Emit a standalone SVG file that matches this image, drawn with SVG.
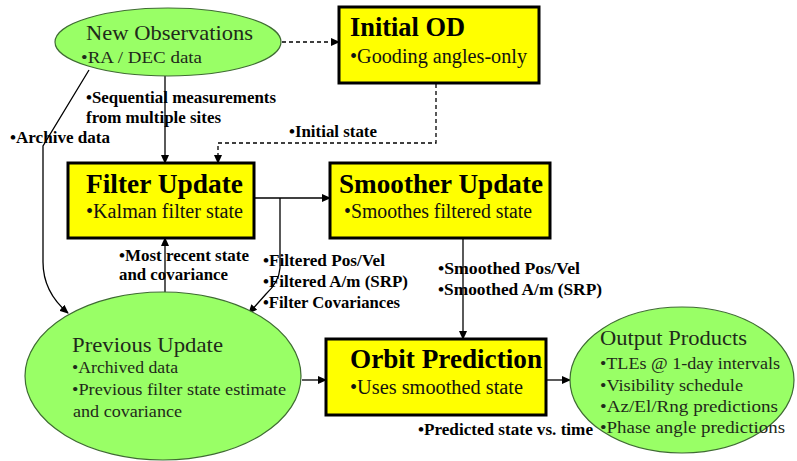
<svg xmlns="http://www.w3.org/2000/svg" width="797" height="461" viewBox="0 0 797 461">
<defs>
<marker id="ah" markerWidth="9" markerHeight="8" refX="8" refY="4" orient="auto" markerUnits="userSpaceOnUse">
<path d="M0,0 L9,4 L0,8 Z" fill="#000"/>
</marker>
<style>
.box{fill:#ffff00;stroke:#000;stroke-width:3}
.ell{fill:#99ff66;stroke:#3f6b33;stroke-width:1.2}
.ttl{font-family:"Liberation Serif","Times New Roman",serif;font-weight:bold;font-size:27px;fill:#000}
.sub{font-family:"Liberation Serif","Times New Roman",serif;font-size:20px;fill:#111}
.etl{font-family:"Liberation Serif","Times New Roman",serif;font-size:21px;fill:#1f2a1a}
.eit{font-family:"Liberation Serif","Times New Roman",serif;font-size:17px;fill:#1f2a1a}
.lbl{font-family:"Liberation Serif","Times New Roman",serif;font-weight:bold;font-size:17px;fill:#000}
.ln{fill:none;stroke:#000;stroke-width:1.3}
.dash{stroke-dasharray:4,3}
</style>
</defs>
<rect width="797" height="461" fill="#fff"/>
<g id="connectors">
<path class="ln dash" d="M282,42 H339" marker-end="url(#ah)"/>
<path class="ln dash" d="M436,84 V143 H218 V163" marker-end="url(#ah)"/>
<path class="ln" d="M165,76 V163" marker-end="url(#ah)"/>
<path class="ln" d="M89,70 L43,146 V262 Q43,292 68,313" marker-end="url(#ah)"/>
<path class="ln" d="M254,198 H330" marker-end="url(#ah)"/>
<path class="ln" d="M280,198 V268 Q279,282 266,294 L249,313" marker-end="url(#ah)"/>
<path class="ln" d="M165,292 V238" marker-end="url(#ah)"/>
<path class="ln" d="M463,238 V339" marker-end="url(#ah)"/>
<path class="ln" d="M302,380 H326" marker-end="url(#ah)"/>
<path class="ln" d="M546,380 H570" marker-end="url(#ah)"/>
</g>
<g id="labels">
<text class="lbl" x="86" y="103" textLength="190" lengthAdjust="spacingAndGlyphs">•Sequential measurements</text>
<text class="lbl" x="86" y="123" textLength="135" lengthAdjust="spacingAndGlyphs">from multiple sites</text>
<text class="lbl" x="10" y="143" textLength="100" lengthAdjust="spacingAndGlyphs">•Archive data</text>
<text class="lbl" x="289" y="137" textLength="88" lengthAdjust="spacingAndGlyphs">•Initial state</text>
<text class="lbl" x="119" y="261" textLength="130" lengthAdjust="spacingAndGlyphs">•Most recent state</text>
<text class="lbl" x="119" y="280" textLength="109" lengthAdjust="spacingAndGlyphs">and covariance</text>
<text class="lbl" x="263" y="266" textLength="122" lengthAdjust="spacingAndGlyphs">•Filtered Pos/Vel</text>
<text class="lbl" x="263" y="287" textLength="145" lengthAdjust="spacingAndGlyphs">•Filtered A/m (SRP)</text>
<text class="lbl" x="263" y="308" textLength="137" lengthAdjust="spacingAndGlyphs">•Filter Covariances</text>
<text class="lbl" x="438" y="274" textLength="142" lengthAdjust="spacingAndGlyphs">•Smoothed Pos/Vel</text>
<text class="lbl" x="438" y="295" textLength="164" lengthAdjust="spacingAndGlyphs">•Smoothed A/m (SRP)</text>
<text class="lbl" x="418" y="435" textLength="175" lengthAdjust="spacingAndGlyphs">•Predicted state vs. time</text>
</g>
<g id="new-observations">
<ellipse class="ell" cx="168" cy="42" rx="113" ry="34"/>
<text class="etl" x="86" y="40" textLength="167" lengthAdjust="spacingAndGlyphs">New Observations</text>
<text class="eit" x="81" y="63" textLength="121" lengthAdjust="spacingAndGlyphs">•RA / DEC data</text>
</g>
<g id="initial-od">
<rect class="box" x="339" y="7" width="200" height="76"/>
<text class="ttl" x="350" y="36" textLength="115" lengthAdjust="spacingAndGlyphs">Initial OD</text>
<text class="sub" x="350" y="63" textLength="177" lengthAdjust="spacingAndGlyphs">•Gooding angles-only</text>
</g>
<g id="filter-update">
<rect class="box" x="68" y="163" width="186" height="75"/>
<text class="ttl" x="86" y="193" textLength="157" lengthAdjust="spacingAndGlyphs">Filter Update</text>
<text class="sub" x="86" y="218" textLength="157" lengthAdjust="spacingAndGlyphs">•Kalman filter state</text>
</g>
<g id="smoother-update">
<rect class="box" x="330" y="163" width="220" height="75"/>
<text class="ttl" x="339" y="193" textLength="204" lengthAdjust="spacingAndGlyphs">Smoother Update</text>
<text class="sub" x="344" y="218" textLength="188" lengthAdjust="spacingAndGlyphs">•Smoothes filtered state</text>
</g>
<g id="previous-update">
<ellipse class="ell" cx="163" cy="376" rx="138" ry="84"/>
<text class="etl" x="72" y="352" textLength="151" lengthAdjust="spacingAndGlyphs">Previous Update</text>
<text class="eit" x="72" y="373" textLength="106" lengthAdjust="spacingAndGlyphs">•Archived data</text>
<text class="eit" x="72" y="395" textLength="214" lengthAdjust="spacingAndGlyphs">•Previous filter state estimate</text>
<text class="eit" x="73" y="417" textLength="109" lengthAdjust="spacingAndGlyphs">and covariance</text>
</g>
<g id="orbit-prediction">
<rect class="box" x="326" y="339" width="220" height="76"/>
<text class="ttl" x="350" y="368" textLength="192" lengthAdjust="spacingAndGlyphs">Orbit Prediction</text>
<text class="sub" x="350" y="394" textLength="173" lengthAdjust="spacingAndGlyphs">•Uses smoothed state</text>
</g>
<g id="output-products">
<ellipse class="ell" cx="682" cy="380" rx="112" ry="73"/>
<text class="etl" x="600" y="345" textLength="147" lengthAdjust="spacingAndGlyphs">Output Products</text>
<text class="eit" x="600" y="369" textLength="180" lengthAdjust="spacingAndGlyphs">•TLEs @ 1-day intervals</text>
<text class="eit" x="600" y="391" textLength="143" lengthAdjust="spacingAndGlyphs">•Visibility schedule</text>
<text class="eit" x="600" y="412" textLength="178" lengthAdjust="spacingAndGlyphs">•Az/El/Rng predictions</text>
<text class="eit" x="600" y="433" textLength="185" lengthAdjust="spacingAndGlyphs">•Phase angle predictions</text>
</g>
</svg>
